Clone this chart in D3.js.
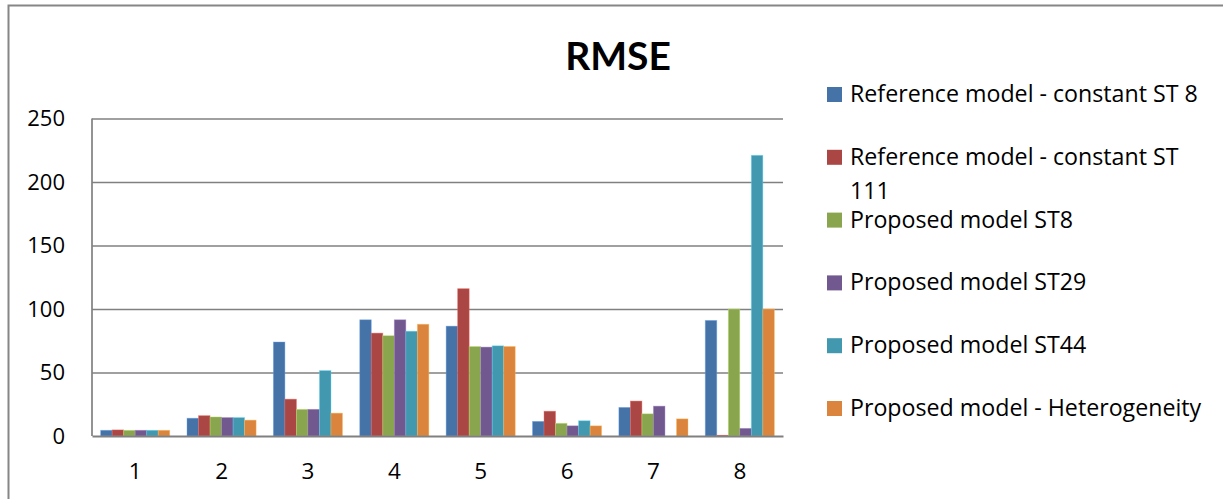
<!DOCTYPE html>
<html>
<head>
<meta charset="utf-8">
<script src="https://d3js.org/d3.v7.min.js"></script>
<style>
  body { margin: 0; background: #fff; }
  text { font-family: "Open Sans", Lato, sans-serif; fill: #000; }
</style>
</head>
<body>
<svg class="chart" width="1223" height="499"></svg>
<script>

    var categories = ["1", "2", "3", "4", "5", "6", "7", "8"]
    var seriesNames = [
        "Reference model - constant ST 8",
        "Reference model - constant ST 111",
        "Proposed model ST8",
        "Proposed model ST29",
        "Proposed model ST44",
        "Proposed model - Heterogeneity"
    ]
    var refST8   = [4.5, 14, 74, 91.5, 86.5, 11.5, 22.5, 91]
    var refST111 = [4.8, 16, 29, 81, 116, 19.5, 27.5, 0.6]
    var propST8  = [4.5, 15, 21, 79, 70.5, 10, 17.5, 100]
    var propST29 = [4.5, 14.5, 21, 91.5, 70, 8, 23.5, 6]
    var propST44 = [4.5, 14.5, 51.5, 82.5, 71, 12, 0, 221]
    var propHet  = [4.5, 12.5, 18, 88, 70.5, 8, 13.5, 100]
    var yTicks = [0, 50, 100, 150, 200, 250]

    var seriesValues = [refST8, refST111, propST8, propST29, propST44, propHet]
    var colors = ["#4572A7", "#AA4643", "#89A54E", "#71588F", "#4198AF", "#DB843D"]

    var svg = d3.select("svg")

    // outer chart border (runs off the right / bottom edge)
    svg.append("rect")
        .attr("x", 8.5).attr("y", 5.5)
        .attr("width", 1300).attr("height", 600)
        .attr("fill", "none")
        .attr("stroke", "#868686")
        .attr("stroke-width", 2)

    var plotL = 92, plotR = 783, plotT = 118.5, plotB = 436
    var w = plotR - plotL

    var x0 = d3.scaleBand().domain(categories).range([plotL, plotR])
    var x1 = d3.scaleBand().domain(d3.range(seriesNames.length))
        .range([0, x0.bandwidth()]).paddingInner(0).paddingOuter(0.75)
    var y = d3.scaleLinear().domain([0, 250]).range([plotB, plotT])

    // gridlines
    svg.append("g")
        .attr("transform", `translate(${plotL},0)`)
        .call(d3.axisLeft(y).tickValues(yTicks.slice(1)).tickSize(-w).tickFormat(""))
        .call(g => g.select(".domain").remove())
        .selectAll("line").attr("stroke", "#808080").attr("stroke-width", 1.7)

    // y labels
    var yAxis = svg.append("g")
        .attr("transform", `translate(${plotL},0)`)
        .call(d3.axisLeft(y).tickValues(yTicks).tickSize(0).tickPadding(27))
    yAxis.select(".domain").remove()
    yAxis.selectAll("text").style("font-size", "22px").style("font-family", "Open Sans")

    // bars
    var groups = svg.selectAll("g.grp")
        .data(categories)
        .enter()
        .append("g")
        .attr("class", "grp")
        .attr("transform", d => `translate(${x0(d)},0)`)

    groups.selectAll("rect")
        .data((d, i) => seriesValues.map((s, j) => ({ s: j, v: s[i] })))
        .enter()
        .append("rect")
        .attr("x", d => x1(d.s))
        .attr("width", x1.bandwidth())
        .attr("y", d => y(d.v))
        .attr("height", d => plotB - y(d.v))
        .attr("fill", d => colors[d.s])
        .attr("stroke", d => d.v > 0 ? d3.color(colors[d.s]).brighter(1) : "none")
        .attr("stroke-opacity", 0.5)
        .attr("stroke-width", 0.8)

    // axis lines
    svg.append("line")
        .attr("x1", plotL).attr("x2", plotL).attr("y1", plotT).attr("y2", plotB)
        .attr("stroke", "#808080").attr("stroke-width", 1.7)

    var xAxis = svg.append("g")
        .attr("transform", `translate(0,${plotB})`)
        .call(d3.axisBottom(x0).tickSize(0).tickPadding(27))
    xAxis.select(".domain").attr("stroke", "#808080").attr("stroke-width", 2)
    xAxis.selectAll("text").style("font-size", "22.5px").style("font-family", "Open Sans")

    // title
    svg.append("text")
        .attr("x", 618).attr("y", 70)
        .attr("text-anchor", "middle")
        .style("font-family", "Lato")
        .style("font-size", "39px")
        .style("font-weight", "bold")
        .text("RMSE")

    // legend
    var legend = svg.selectAll("g.leg")
        .data(seriesNames)
        .enter()
        .append("g")
        .attr("class", "leg")
        .attr("transform", (d, i) => `translate(827,${102 + i * 62.8})`)

    legend.append("rect")
        .attr("x", 0).attr("y", -15)
        .attr("width", 15).attr("height", 15)
        .attr("fill", (d, i) => colors[i])

    legend.append("text")
        .attr("x", 23)
        .style("font-size", "23.2px")
        .each(function (d) {
            var t = d3.select(this)
            // the long name wraps like in the original
            var lines = d === "Reference model - constant ST 111"
                ? ["Reference model - constant ST", "111"] : [d]
            lines.forEach((l, k) => t.append("tspan").attr("x", 23).attr("dy", k ? 34 : 0).text(l))
        })

</script>
</body>
</html>
